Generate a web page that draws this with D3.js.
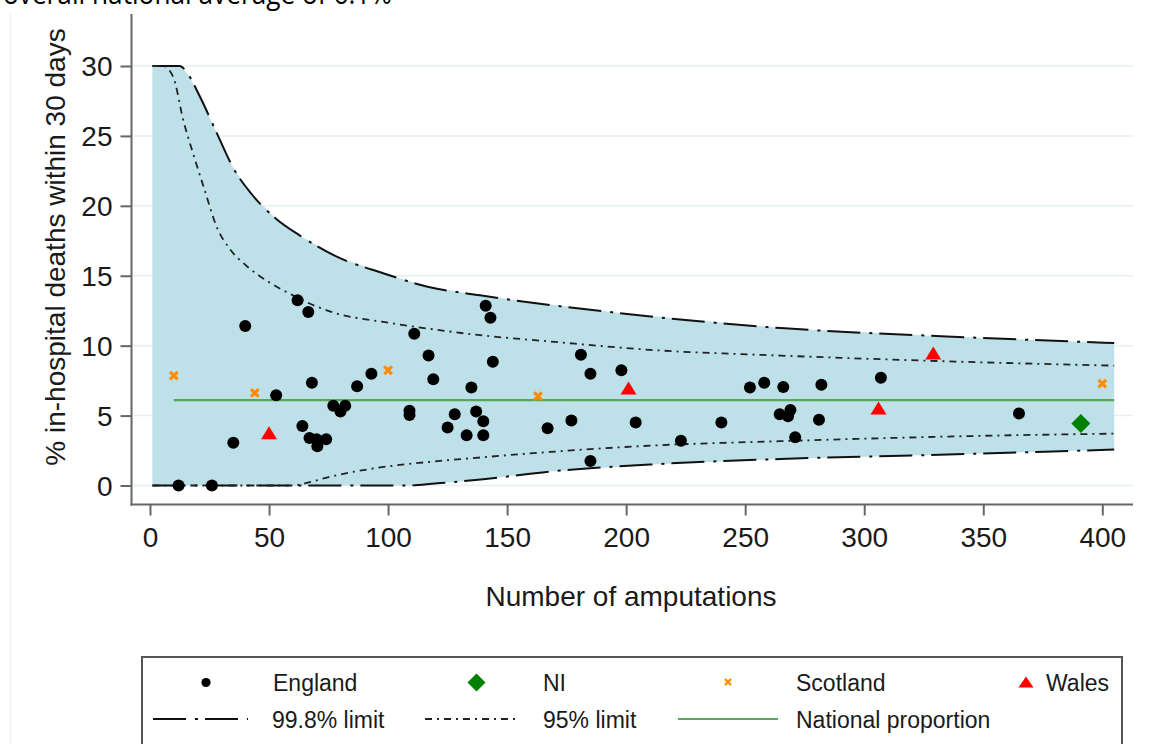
<!DOCTYPE html>
<html>
<head>
<meta charset="utf-8">
<script src="https://cdn.jsdelivr.net/npm/d3@7"></script>
<style>
  body { margin: 0; background: #fff; }
  svg { display: block; }
</style>
</head>
<body>
<svg id="chart" width="1151" height="744"></svg>
<script>
// Hospital units: number of amputations and % in-hospital deaths within 30 days
const englandN    = [12, 26, 35, 40, 53, 62, 64, 66.5, 67, 68, 70, 70.3, 74, 77, 80, 82, 87, 93,
                     109, 109, 111, 117, 119, 125, 128, 133, 135, 137, 140, 140, 141, 143, 144,
                     167, 177, 181, 185, 185, 198, 204, 223, 240, 252, 258, 264.5, 266, 268, 269,
                     271, 281, 282, 307, 365];
const englandRate = [0, 0, 3.05, 11.4, 6.45, 13.25, 4.25, 12.4, 3.4, 7.35, 3.3, 2.8, 3.3, 5.7, 5.3, 5.7, 7.1, 8.0,
                     5.35, 5.05, 10.85, 9.3, 7.6, 4.15, 5.1, 3.6, 7.0, 5.3, 3.6, 4.6, 12.85, 12.0, 8.85,
                     4.1, 4.65, 9.35, 8.0, 1.75, 8.25, 4.5, 3.2, 4.5, 7.0, 7.35, 5.1, 7.05, 4.95, 5.4,
                     3.45, 4.7, 7.2, 7.7, 5.15];
const niN          = [391];
const niRate       = [4.43];
const scotlandN    = [10, 44, 100, 163, 400];
const scotlandRate = [7.86, 6.62, 8.24, 6.38, 7.29];
const walesN       = [50, 201, 306, 329];
const walesRate    = [3.78, 6.98, 5.55, 9.48];

// National proportion (%) and the n range it is drawn over
const nationalRate  = 6.1;
const nationalRange = [10, 405];

// Control limits as [n, %] pairs
const upper998 = [[1, 30], [12.5, 30], [16, 29.4], [21, 27.8], [28.6, 25.0], [35, 22.7], [42.4, 20.9],
                  [52.8, 19.1], [62.7, 17.9], [78, 16.4], [97.6, 15.2], [117, 14.2], [138.6, 13.6],
                  [196, 12.35], [265, 11.26], [334.6, 10.66], [405, 10.19]];
const lower998 = [[1, 0], [108, 0], [120, 0.15], [131.5, 0.31], [140, 0.45], [168, 1.0], [210, 1.5],
                  [265, 1.9], [335, 2.21], [405, 2.57]];
const upper95  = [[1, 30], [5.6, 30], [9.8, 29.2], [14, 26.1], [18, 23.8], [23, 21.1], [28, 18.5],
                  [33.6, 16.9], [40.6, 15.7], [50.4, 14.5], [60, 13.6], [70, 12.8], [78.4, 12.3],
                  [98, 11.7], [117.6, 11.2], [138.6, 10.75], [168, 10.3], [210, 9.7], [265, 9.29],
                  [335, 8.88], [405, 8.57]];
const lower95  = [[1, 0], [60, 0], [65, 0.15], [75, 0.6], [95, 1.25], [115, 1.65], [135, 1.95],
                  [168, 2.4], [210, 2.85], [265, 3.17], [335, 3.5], [405, 3.71]];

const xTicks = [0, 50, 100, 150, 200, 250, 300, 350, 400];
const yTicks = [0, 5, 10, 15, 20, 25, 30];

const svg = d3.select("#chart");
const FONT = "'Liberation Sans', Arial, sans-serif";
const TEXT = "#1a1a1a";

const x = d3.scaleLinear().domain([0, 400]).range([150, 1102.3]);
const y = d3.scaleLinear().domain([0, 30]).range([485.5, 66]);

const plotLeft = 131.5, plotRight = 1133, plotTop = 14, plotBottom = 504.5;

// Caption line running off the top edge
svg.append("text")
  .attr("x", 3).attr("y", 4)
  .attr("font-family", "'Open Sans', sans-serif")
  .attr("font-size", 30)
  .attr("textLength", 389).attr("lengthAdjust", "spacingAndGlyphs")
  .attr("fill", "#000")
  .text("overall national average of 6.1%");

// Faint outer frame edge
svg.append("line")
  .attr("x1", 10.5).attr("x2", 10.5).attr("y1", 13).attr("y2", 744)
  .attr("stroke", "#edf2f5").attr("stroke-width", 1.5);

// Horizontal grid
svg.append("g").selectAll("line").data(yTicks).join("line")
  .attr("x1", plotLeft).attr("x2", plotRight)
  .attr("y1", d => y(d)).attr("y2", d => y(d))
  .attr("stroke", "#e6f0f2").attr("stroke-width", 1.5);

// Shaded band between the 99.8% limits
const band = upper998.concat(lower998.slice().reverse());
svg.append("path")
  .attr("d", d3.line().x(d => x(d[0])).y(d => y(d[1])).curve(d3.curveLinearClosed)(band))
  .attr("fill", "#bde0e9");

// National proportion
svg.append("line")
  .attr("x1", x(nationalRange[0])).attr("x2", x(nationalRange[1]))
  .attr("y1", y(nationalRate)).attr("y2", y(nationalRate))
  .attr("stroke", "#57a957").attr("stroke-width", 2.2);

// Limit curves
const limitLine = d3.line().x(d => x(d[0])).y(d => y(d[1])).curve(d3.curveMonotoneX);
const DASH998 = "33 9 3 7";
const DASH95 = "7 5 2 5";
[upper998, lower998].forEach(pts => {
  svg.append("path").attr("d", limitLine(pts))
    .attr("fill", "none").attr("stroke", "#111").attr("stroke-width", 2)
    .attr("stroke-dasharray", DASH998);
});
[upper95, lower95].forEach(pts => {
  svg.append("path").attr("d", limitLine(pts))
    .attr("fill", "none").attr("stroke", "#222").attr("stroke-width", 1.8)
    .attr("stroke-dasharray", DASH95);
});

// Marker shapes
const diamond = s => `M0,${-s}L${s},0L0,${s}L${-s},0Z`;
const triangle = (w, h) => `M0,${-h / 2}L${w / 2},${h / 2}L${-w / 2},${h / 2}Z`;
const cross = s => `M${-s},${-s}L${s},${s}M${-s},${s}L${s},${-s}`;

// England
svg.append("g").selectAll("circle").data(d3.range(englandN.length)).join("circle")
  .attr("cx", i => x(englandN[i])).attr("cy", i => y(englandRate[i]))
  .attr("r", 6).attr("fill", "#000");

// NI
svg.append("g").selectAll("path").data(d3.range(niN.length)).join("path")
  .attr("transform", i => `translate(${x(niN[i])},${y(niRate[i])})`)
  .attr("d", diamond(9.5)).attr("fill", "#008000");

// Scotland
svg.append("g").selectAll("path").data(d3.range(scotlandN.length)).join("path")
  .attr("transform", i => `translate(${x(scotlandN[i])},${y(scotlandRate[i])})`)
  .attr("d", cross(3.8)).attr("stroke", "#ff8c00").attr("stroke-width", 3.2).attr("fill", "none");

// Wales
svg.append("g").selectAll("path").data(d3.range(walesN.length)).join("path")
  .attr("transform", i => `translate(${x(walesN[i])},${y(walesRate[i])})`)
  .attr("d", triangle(16, 13)).attr("fill", "#ff0000");

// Axes
const AXIS = "#666";
svg.append("line").attr("x1", plotLeft).attr("x2", plotLeft).attr("y1", plotTop).attr("y2", plotBottom + 1)
  .attr("stroke", AXIS).attr("stroke-width", 2);
svg.append("line").attr("x1", plotLeft - 1).attr("x2", plotRight).attr("y1", plotBottom).attr("y2", plotBottom)
  .attr("stroke", AXIS).attr("stroke-width", 2);

const yAxis = d3.axisLeft(y).tickValues(yTicks).tickSize(11).tickPadding(8).tickFormat(d3.format("d"));
const gy = svg.append("g").attr("transform", `translate(${plotLeft},0)`).call(yAxis);
gy.select(".domain").remove();
gy.selectAll(".tick line").attr("stroke", AXIS).attr("stroke-width", 2);
gy.selectAll(".tick text").attr("font-family", FONT).attr("font-size", 28).attr("fill", TEXT)
  .attr("dy", "0.35em");

const xAxis = d3.axisBottom(x).tickValues(xTicks).tickSize(11).tickPadding(12).tickFormat(d3.format("d"));
const gx = svg.append("g").attr("transform", `translate(0,${plotBottom})`).call(xAxis);
gx.select(".domain").remove();
gx.selectAll(".tick line").attr("stroke", AXIS).attr("stroke-width", 2);
gx.selectAll(".tick text").attr("font-family", FONT).attr("font-size", 28).attr("fill", TEXT);

// Axis titles
svg.append("text")
  .attr("x", 631).attr("y", 606)
  .attr("text-anchor", "middle")
  .attr("font-family", FONT).attr("font-size", 28).attr("fill", TEXT)
  .text("Number of amputations");

svg.append("text")
  .attr("transform", "translate(65,247) rotate(-90)")
  .attr("text-anchor", "middle")
  .attr("font-family", FONT).attr("font-size", 28).attr("fill", TEXT)
  .text("% in-hospital deaths within 30 days");

// Legend
const legend = svg.append("g");
legend.append("rect")
  .attr("x", 142).attr("y", 657).attr("width", 980).attr("height", 120)
  .attr("fill", "#fff").attr("stroke", "#555").attr("stroke-width", 2);

const row1 = 682.5, row2 = 719;
legend.append("circle").attr("cx", 206).attr("cy", row1).attr("r", 4.6).attr("fill", "#000");
legend.append("path").attr("transform", `translate(476.5,${row1})`).attr("d", diamond(9)).attr("fill", "#008000");
legend.append("path").attr("transform", `translate(728,${row1 - 0.5})`).attr("d", cross(3))
  .attr("stroke", "#ff8c00").attr("stroke-width", 2.4).attr("fill", "none");
legend.append("path").attr("transform", `translate(1026,${row1 - 0.5})`).attr("d", triangle(15, 11)).attr("fill", "#ff0000");

legend.append("line").attr("x1", 153).attr("x2", 248).attr("y1", row2).attr("y2", row2)
  .attr("stroke", "#111").attr("stroke-width", 2).attr("stroke-dasharray", DASH998);
legend.append("line").attr("x1", 425).attr("x2", 520).attr("y1", row2).attr("y2", row2)
  .attr("stroke", "#222").attr("stroke-width", 1.8).attr("stroke-dasharray", DASH95);
legend.append("line").attr("x1", 678).attr("x2", 778).attr("y1", row2).attr("y2", row2)
  .attr("stroke", "#57a957").attr("stroke-width", 2.2);

const legendLabels = [
  ["England", 273, 691], ["NI", 543, 691], ["Scotland", 796, 691], ["Wales", 1046, 691],
  ["99.8% limit", 272, 727.5], ["95% limit", 543, 727.5], ["National proportion", 796, 727.5]
];
legend.selectAll("text.lbl").data(legendLabels).join("text")
  .attr("class", "lbl")
  .attr("x", d => d[1]).attr("y", d => d[2])
  .attr("font-family", FONT).attr("font-size", 23).attr("fill", TEXT)
  .text(d => d[0]);
</script>
</body>
</html>
